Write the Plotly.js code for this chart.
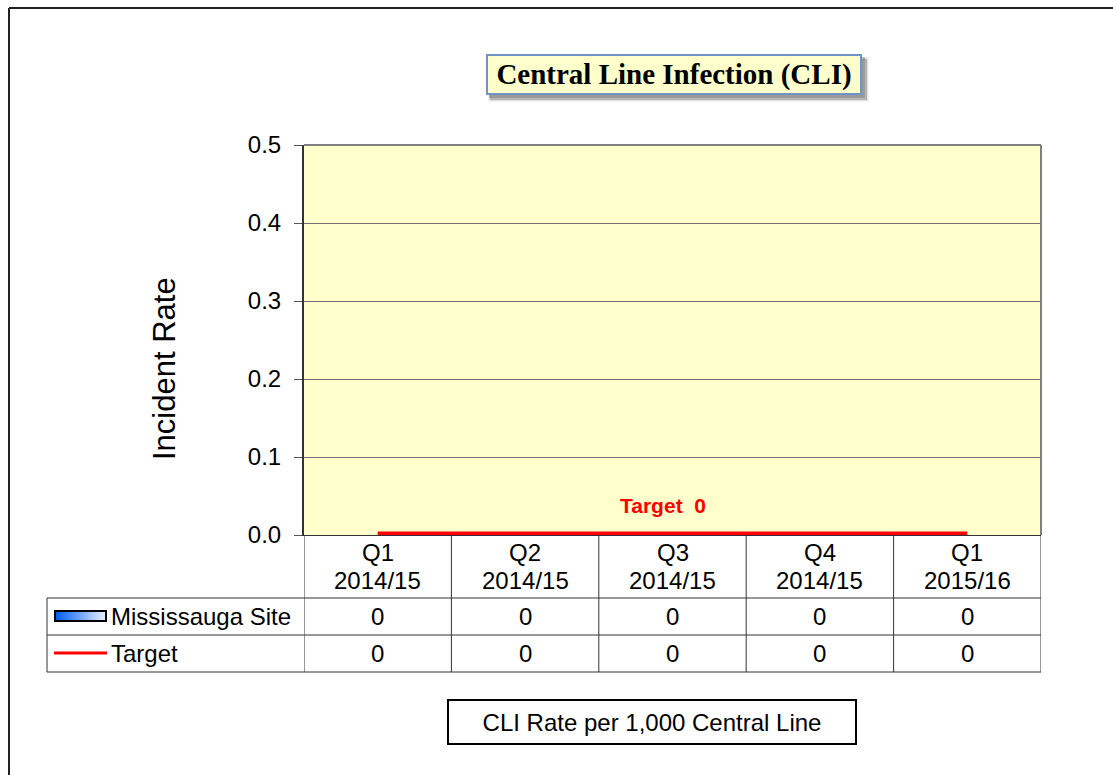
<!DOCTYPE html>
<html>
<head>
<meta charset="utf-8">
<script src="https://cdn.plot.ly/plotly-3.0.1.min.js"></script>
<style>html,body{margin:0;padding:0;background:#fff;}#chart{width:1113px;height:775px;}</style>
</head>
<body>
<div id="chart"></div>
<script>
// ---- data ----
var quarters = ["Q1", "Q2", "Q3", "Q4", "Q1"];
var years = ["2014/15", "2014/15", "2014/15", "2014/15", "2015/16"];
var siteValues = [0, 0, 0, 0, 0];
var targetValues = [0, 0, 0, 0, 0];
var seriesNames = ["Mississauga Site", "Target"];
var chartTitle = "Central Line Infection (CLI)";
var yTitle = "Incident Rate";
var footNote = "CLI Rate per 1,000 Central Line";
var targetLabel = "Target  0";

// ---- geometry helpers (layout only) ----
var W = 1113, H = 775;
var mL = 304, mR = 72, mT = 145, mB = 240;
var plotW = W - mL - mR, plotH = H - mT - mB;
function px(p) { return (p - mL) / plotW; }           // pixel x -> paper x
function py(p) { return (H - mB - p) / plotH; }        // pixel y -> paper y

var cats = quarters.map(function (q, i) { return i; });

var traces = [
  {
    type: "bar", name: seriesNames[0], x: cats, y: siteValues,
    marker: { color: "#3a7be0", line: { width: 0 } },
    showlegend: false, hoverinfo: "skip"
  },
  {
    type: "scatter", mode: "lines", name: seriesNames[1], x: cats, y: targetValues,
    line: { color: "#ff0000", width: 7 }, cliponaxis: false,
    showlegend: false, hoverinfo: "skip"
  }
];

var font = "Liberation Sans, Arial, sans-serif";
var fs = 24;
var annotations = [];
var shapes = [];

// outer frame (left/top)
shapes.push({ type: "line", xref: "paper", yref: "paper", x0: px(9), x1: px(1113), y0: py(8), y1: py(8), line: { color: "#222", width: 2 } });
shapes.push({ type: "line", xref: "paper", yref: "paper", x0: px(9), x1: px(9), y0: py(8), y1: py(775), line: { color: "#222", width: 2 } });

// plot area top/right border (gray)
shapes.push({ type: "line", xref: "paper", yref: "paper", x0: 0, x1: 1, y0: 1, y1: 1, line: { color: "#808080", width: 2 } });
shapes.push({ type: "line", xref: "paper", yref: "paper", x0: 1, x1: 1, y0: 0, y1: 1, line: { color: "#808080", width: 2 } });

// title box shadow
shapes.push({ type: "rect", xref: "paper", yref: "paper", x0: px(490), x1: px(867), y0: py(59), y1: py(100), fillcolor: "rgba(80,80,80,0.35)", line: { color: "rgba(80,80,80,0.15)", width: 3 } });
shapes.push({ type: "rect", xref: "paper", yref: "paper", x0: px(489), x1: px(865), y0: py(57), y1: py(98), fillcolor: "rgba(80,80,80,0.35)", line: { width: 0 } });

// data table lines
var tableLine = { color: "#333", width: 1 };
[598, 635, 672].forEach(function (p) {
  shapes.push({ type: "line", xref: "paper", yref: "paper", x0: px(47), x1: 1, y0: py(p), y1: py(p), line: tableLine });
});
for (var i = 0; i <= quarters.length; i++) {
  shapes.push({ type: "line", xref: "x", yref: "paper", x0: i - 0.5, x1: i - 0.5, y0: 0, y1: py(672), line: tableLine });
}
shapes.push({ type: "line", xref: "paper", yref: "paper", x0: px(47), x1: px(47), y0: py(598), y1: py(672), line: tableLine });

// legend keys in table
var nSeg = 26, kx0 = 55, kx1 = 106;
for (var s = 0; s < nSeg; s++) {
  var t = s / (nSeg - 1);
  var r = Math.round(0 + t * (225 - 0)), g = Math.round(95 + t * (235 - 95)), b = Math.round(240 + t * (255 - 240));
  shapes.push({ type: "rect", xref: "paper", yref: "paper",
    x0: px(kx0 + (kx1 - kx0) * s / nSeg), x1: px(kx0 + (kx1 - kx0) * (s + 1) / nSeg + 0.5),
    y0: py(611), y1: py(621), fillcolor: "rgb(" + r + "," + g + "," + b + ")", line: { width: 0 } });
}
shapes.push({ type: "rect", xref: "paper", yref: "paper", x0: px(kx0), x1: px(kx1), y0: py(611), y1: py(621), line: { color: "#000", width: 2 } });
shapes.push({ type: "line", xref: "paper", yref: "paper", x0: px(54), x1: px(107), y0: py(653), y1: py(653), line: { color: "#ff0000", width: 3 } });

// legend labels
annotations.push({ xref: "paper", yref: "paper", x: px(109), y: py(616), xanchor: "left", yanchor: "middle", text: seriesNames[0], showarrow: false, font: { family: font, size: fs, color: "#000" } });
annotations.push({ xref: "paper", yref: "paper", x: px(109), y: py(653), xanchor: "left", yanchor: "middle", text: seriesNames[1], showarrow: false, font: { family: font, size: fs, color: "#000" } });

// category labels and table values
for (var j = 0; j < quarters.length; j++) {
  annotations.push({ xref: "x", yref: "paper", x: j, y: py(552), yanchor: "middle", text: quarters[j], showarrow: false, font: { family: font, size: fs, color: "#000" } });
  annotations.push({ xref: "x", yref: "paper", x: j, y: py(580), yanchor: "middle", text: years[j], showarrow: false, font: { family: font, size: fs, color: "#000" } });
  annotations.push({ xref: "x", yref: "paper", x: j, y: py(616), yanchor: "middle", text: String(siteValues[j]), showarrow: false, font: { family: font, size: fs, color: "#000" } });
  annotations.push({ xref: "x", yref: "paper", x: j, y: py(653), yanchor: "middle", text: String(targetValues[j]), showarrow: false, font: { family: font, size: fs, color: "#000" } });
}

// target label
annotations.push({ xref: "x", yref: "y", x: 2, y: targetValues[2], xshift: -10, yshift: 30, yanchor: "middle", text: "<b>" + targetLabel + "</b>", showarrow: false, font: { family: font, size: 21, color: "#ff0000" } });

// y axis title
annotations.push({ xref: "paper", yref: "paper", x: px(164), y: py(369), xanchor: "center", yanchor: "middle", textangle: -90, text: yTitle, showarrow: false, font: { family: font, size: 31, color: "#000" } });

// chart title box
var titleFont = { family: "Liberation Serif, Times New Roman, serif", size: 29, color: "#000" };
annotations.push({ xref: "paper", yref: "paper", x: px(674), y: py(75), xanchor: "center", yanchor: "middle", text: "<b>" + chartTitle + "</b>", showarrow: false,
  font: titleFont, bgcolor: "#ffffcc", bordercolor: "#6f94c8", borderwidth: 2, borderpad: 2, width: 368, height: 33 });

// footnote box
annotations.push({ xref: "paper", yref: "paper", x: px(652), y: py(722), xanchor: "center", yanchor: "middle", text: footNote, showarrow: false,
  font: { family: font, size: fs, color: "#000" }, width: 404, height: 40, bordercolor: "#000", borderwidth: 2, borderpad: 1, bgcolor: "#fff" });

var layout = {
  width: W, height: H,
  margin: { l: mL, r: mR, t: mT, b: mB, pad: 0 },
  paper_bgcolor: "#ffffff",
  plot_bgcolor: "#ffffcc",
  showlegend: false,
  bargap: 0.4,
  xaxis: {
    type: "linear", range: [-0.5, quarters.length - 0.5],
    showticklabels: false, ticks: "", showgrid: false, zeroline: false,
    showline: true, linecolor: "#333", linewidth: 1, fixedrange: true
  },
  yaxis: {
    range: [0, 0.5], dtick: 0.1, tick0: 0, tickformat: ".1f",
    ticks: "outside", ticklen: 8, tickcolor: "#555", ticklabelstandoff: 8,
    tickfont: { family: font, size: fs, color: "#000" },
    showgrid: true, gridcolor: "#707070", gridwidth: 1,
    zeroline: false, showline: true, linecolor: "#333", linewidth: 2,
    fixedrange: true
  },
  shapes: shapes,
  annotations: annotations
};

Plotly.newPlot("chart", traces, layout, { displayModeBar: false, staticPlot: true });
</script>
</body>
</html>
